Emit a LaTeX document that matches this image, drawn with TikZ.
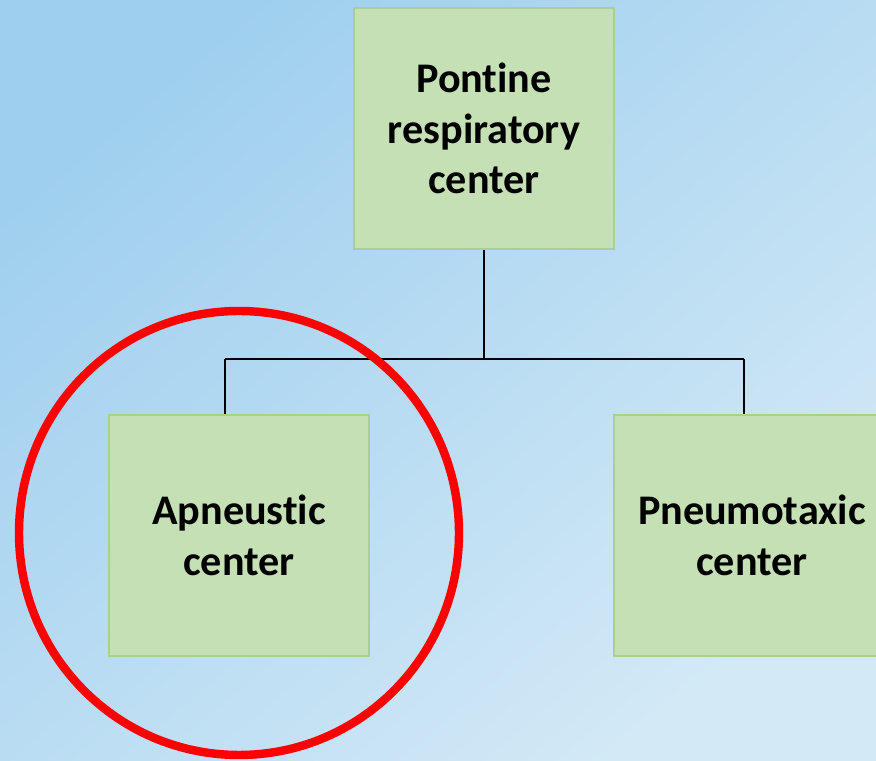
\documentclass[tikz,border=0pt]{standalone}
\usepackage{fontspec}
\setmainfont{Carlito}[Ligatures={NoCommon,NoContextual}]
\definecolor{bgdark}{HTML}{9FCFEF}
\definecolor{bglight}{HTML}{D3E9F6}
\definecolor{boxfill}{HTML}{C5E0B4}
\definecolor{boxline}{HTML}{A9D18E}

\begin{document}
\begin{tikzpicture}[thin]
   \shade[top color=bgdark, bottom color=bglight, shading angle=40] (0,0) rectangle (21.9,19.025);
   \useasboundingbox (0,0) rectangle (21.9,19.025);
   \begin{scope}[every node/.style={rectangle,draw=boxline,line width=1.2pt,fill=boxfill,minimum width=6.5cm,minimum height=6.025cm,inner sep=0pt,align=center,font=\fontsize{30}{36}\selectfont\bfseries}]
    \node (top) at (12.1,15.81) {Pontine\\respiratory\\center};
    \node (left) at (5.975,5.6375) {Apneustic\\center};
    \node[minimum width=6.9cm] (right) at (18.8,5.6375) {Pneumotaxic\\center};
   \end{scope}
   \coordinate (j) at (12.1,10.05);
   \coordinate (jl) at (5.625,10.05);
   \coordinate (jr) at (18.6,10.05);
   \begin{scope}[every path/.style={draw=black,line width=0.8pt}]
    \draw (top) -- (j);
    \draw (jl) -- (jr);
    \draw (jl) -- (jl |- left.north);
    \draw (jr) -- (jr |- right.north);
   \end{scope}
   \draw[red,line width=6pt] (5.975,5.7) ellipse (5.5cm and 5.55cm);
\end{tikzpicture}
\end{document}
